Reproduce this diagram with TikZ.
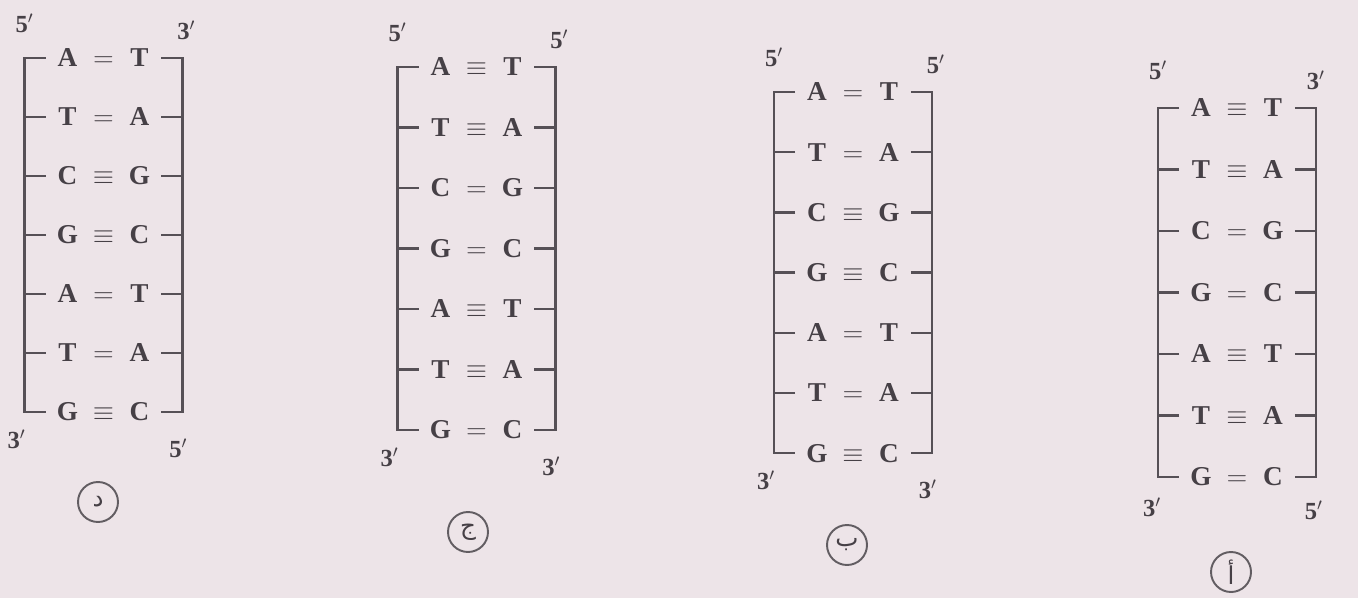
\RequirePackage{fix-cm}
\documentclass[tikz,border=0pt]{standalone}
\usepackage{fontspec}
\setmainfont{Liberation Serif}
\newfontfamily\arabicfont[Script=Arabic]{DejaVu Sans}
\TeXXeTstate=1
\usepackage{xcolor}
\definecolor{paper}{RGB}{237,228,232}
\definecolor{ink}{RGB}{70,64,70}
\definecolor{railgray}{RGB}{86,80,86}
\usepackage{tikz}
\usetikzlibrary{positioning,calc}
\newcommand{\pairtext}[3]{\makebox[0.5cm]{#1}\makebox[0.94cm]{$#2$}\makebox[0.5cm]{#3}}

\begin{document}
\begin{tikzpicture}[x=0.02cm, y=-0.02cm,
  every node/.style={text=ink},
  pair/.style={inner xsep=0.18cm, inner ysep=2pt, font=\fontsize{15.5}{18}\selectfont\bfseries},
  rail/.style={draw=railgray, line width=1.4pt},
  prime/.style={inner sep=0pt, font=\fontsize{14}{16}\selectfont\bfseries},
  option/.style={draw=ink!85, circle, line width=1.1pt, minimum size=0.8cm, inner sep=0pt, font=\arabicfont\fontsize{14}{16}\selectfont}
]
\useasboundingbox (0,0) rectangle (1358,598);
\fill[paper] (0,0) rectangle (1358,598);

% option d
\foreach \l/\b/\r [count=\i] in {A/=/T, T/=/A, C/\equiv/G, G/\equiv/C, A/=/T, T/=/A, G/\equiv/C}
  \node[pair] (d\i) at (103.5, {58+59*(\i-1)}) {\pairtext{\l}{\b}{\r}};
\draw[rail] (d1.west) -- ++(-21,0) |- (d7.west);
\draw[rail] (d1.east) -- ++(21,0) |- (d7.east);
\foreach \i in {2,...,6}
  \draw[rail] (d\i.west) -- ++(-21,0) (d\i.east) -- ++(21,0);
\node[prime] (dtl) at ($(d1.west)+(-21,-35)$) {5$'$};
\node[prime] (dtr) at ($(d1.east)+(25,-28)$) {3$'$};
\node[prime] (dbl) at ($(d7.west)+(-29,27)$) {3$'$};
\node[prime] (dbr) at ($(d7.east)+(17,36)$) {5$'$};
\node[option] (dopt) at (98,502) {\beginR د\endR};

% option j
\foreach \l/\b/\r [count=\i] in {A/\equiv/T, T/\equiv/A, C/=/G, G/=/C, A/\equiv/T, T/\equiv/A, G/=/C}
  \node[pair] (j\i) at (476.5, {67+60.5*(\i-1)}) {\pairtext{\l}{\b}{\r}};
\draw[rail] (j1.west) -- ++(-21,0) |- (j7.west);
\draw[rail] (j1.east) -- ++(21,0) |- (j7.east);
\foreach \i in {2,...,6}
  \draw[rail] (j\i.west) -- ++(-21,0) (j\i.east) -- ++(21,0);
\node[prime] (jtl) at ($(j1.west)+(-21,-35)$) {5$'$};
\node[prime] (jtr) at ($(j1.east)+(25,-28)$) {5$'$};
\node[prime] (jbl) at ($(j7.west)+(-29,27)$) {3$'$};
\node[prime] (jbr) at ($(j7.east)+(17,36)$) {3$'$};
\node[option] (jopt) at (468,532) {\beginR ج\endR};

% option b
\foreach \l/\b/\r [count=\i] in {A/=/T, T/=/A, C/\equiv/G, G/\equiv/C, A/=/T, T/=/A, G/\equiv/C}
  \node[pair] (b\i) at (853, {92+60.2*(\i-1)}) {\pairtext{\l}{\b}{\r}};
\draw[rail] (b1.west) -- ++(-21,0) |- (b7.west);
\draw[rail] (b1.east) -- ++(21,0) |- (b7.east);
\foreach \i in {2,...,6}
  \draw[rail] (b\i.west) -- ++(-21,0) (b\i.east) -- ++(21,0);
\node[prime] (btl) at ($(b1.west)+(-21,-35)$) {5$'$};
\node[prime] (btr) at ($(b1.east)+(25,-28)$) {5$'$};
\node[prime] (bbl) at ($(b7.west)+(-29,27)$) {3$'$};
\node[prime] (bbr) at ($(b7.east)+(17,36)$) {3$'$};
\node[option] (bopt) at (847,545) {\beginR ب\endR};

% option a
\foreach \l/\b/\r [count=\i] in {A/\equiv/T, T/\equiv/A, C/=/G, G/=/C, A/\equiv/T, T/\equiv/A, G/=/C}
  \node[pair] (a\i) at (1237, {108+61.5*(\i-1)}) {\pairtext{\l}{\b}{\r}};
\draw[rail] (a1.west) -- ++(-21,0) |- (a7.west);
\draw[rail] (a1.east) -- ++(21,0) |- (a7.east);
\foreach \i in {2,...,6}
  \draw[rail] (a\i.west) -- ++(-21,0) (a\i.east) -- ++(21,0);
\node[prime] (atl) at ($(a1.west)+(-21,-38)$) {5$'$};
\node[prime] (atr) at ($(a1.east)+(21,-28)$) {3$'$};
\node[prime] (abl) at ($(a7.west)+(-27,30)$) {3$'$};
\node[prime] (abr) at ($(a7.east)+(19,33)$) {5$'$};
\node[option] (aopt) at (1231,572) {\beginR أ\endR};
\end{tikzpicture}
\end{document}
